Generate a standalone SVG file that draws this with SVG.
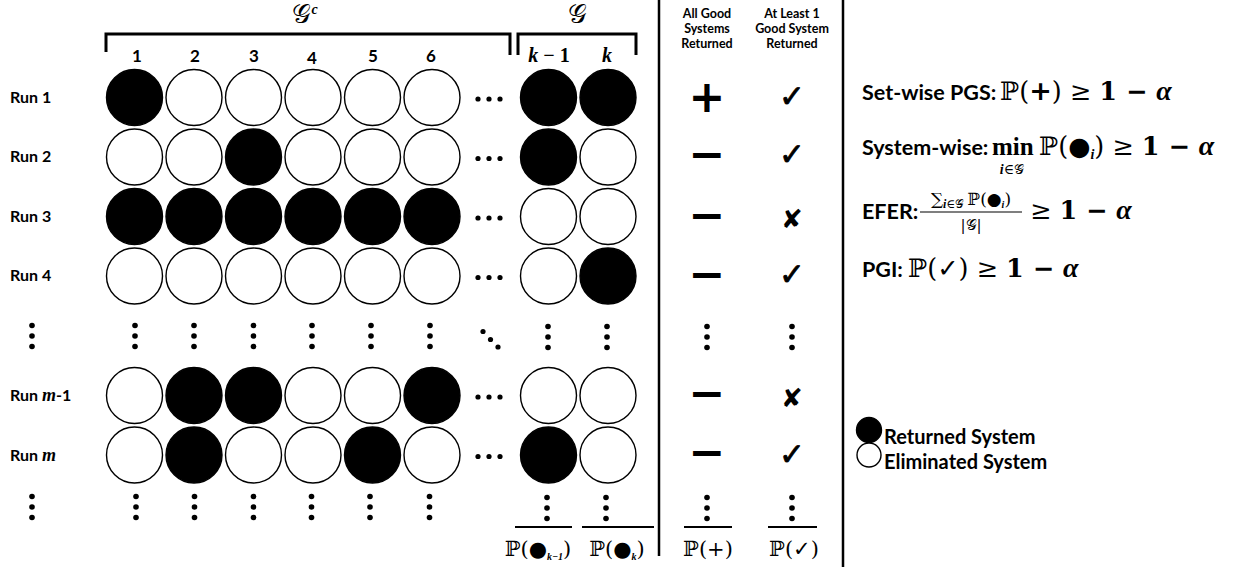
<svg xmlns="http://www.w3.org/2000/svg" width="1245" height="567" viewBox="0 0 1245 567">
<defs>
<style>
.bg{fill:#fff}
.c{stroke:#000;stroke-width:1.4}
.w{fill:#fff}
.b{fill:#000}
.lbl{font-family:Lato,"Open Sans",sans-serif;font-weight:bold;fill:#000}
.run{font-size:16px}
.hd{font-size:12.5px;text-anchor:middle}
.num{font-size:17px;text-anchor:middle}
.m{font-family:"DejaVu Serif","Liberation Serif",serif;fill:#000}
.mi{font-family:"Liberation Serif","DejaVu Serif",serif;font-style:italic;font-weight:bold;fill:#000}
.scr{font-family:"DejaVu Serif","Liberation Serif",serif;font-style:normal;font-weight:normal;fill:#000}
.sym{font-family:"DejaVu Sans",sans-serif;fill:#000;text-anchor:middle}
.pm{font-weight:bold;font-size:44px}
.ck{font-size:31px;stroke:#000;stroke-width:0.8}
.x{font-size:26px}
.dot{fill:#000}
.ln{stroke:#000;fill:none}
</style>
<g id="vd"><circle cx="0" cy="-10.5" r="2.8"/><circle cx="0" cy="0" r="2.8"/><circle cx="0" cy="10.5" r="2.8"/></g>
<g id="hd3"><circle cx="-11" cy="0" r="2.6"/><circle cx="0" cy="0" r="2.6"/><circle cx="11" cy="0" r="2.6"/></g>
</defs>
<rect class="bg" width="1245" height="567"/>

<g id="frame">
<line class="ln" x1="659" y1="0" x2="659" y2="556" stroke-width="2.5"/>
<line class="ln" x1="843" y1="0" x2="843" y2="567" stroke-width="2.5"/>
<path class="ln" d="M106,52 V34 H510 V55" stroke-width="3"/>
<path class="ln" d="M518,55 V34 H636 V55" stroke-width="3"/>
</g>

<g id="headers">
<text class="scr" x="305" y="23" font-size="26" text-anchor="middle">𝒢<tspan class="mi" font-weight="normal" font-size="14" dy="-9">c</tspan></text>
<text class="scr" x="577" y="23" font-size="26" text-anchor="middle">𝒢</text>
<text class="lbl num" x="137" y="62">1</text>
<text class="lbl num" x="195" y="62">2</text>
<text class="lbl num" x="254" y="62">3</text>
<text class="lbl num" x="312" y="64">4</text>
<text class="lbl num" x="373" y="62">5</text>
<text class="lbl num" x="431" y="62">6</text>
<text class="mi" x="549" y="62" font-size="20" text-anchor="middle">k<tspan font-style="normal"> − 1</tspan></text>
<text class="mi" x="607" y="62" font-size="20" text-anchor="middle">k</text>
<text class="lbl hd" x="707" y="18">All Good</text>
<text class="lbl hd" x="707" y="33">Systems</text>
<text class="lbl hd" x="707" y="48">Returned</text>
<text class="lbl hd" x="792" y="18">At Least 1</text>
<text class="lbl hd" x="792" y="33">Good System</text>
<text class="lbl hd" x="792" y="48">Returned</text>
</g>

<g id="runlabels">
<text class="lbl run" x="10" y="103">Run 1</text>
<text class="lbl run" x="10" y="162">Run 2</text>
<text class="lbl run" x="10" y="222">Run 3</text>
<text class="lbl run" x="10" y="281">Run 4</text>
<text class="lbl run" x="10" y="401">Run <tspan class="mi" font-size="18">m</tspan>-1</text>
<text class="lbl run" x="10" y="461">Run <tspan class="mi" font-size="18">m</tspan></text>
<use href="#vd" x="32" y="336"/>
<use href="#vd" x="32" y="507"/>
</g>

<g id="row1">
<circle class="c b" cx="134.5" cy="97.5" r="28"/>
<circle class="c w" cx="194" cy="97.5" r="28"/>
<circle class="c w" cx="253.5" cy="97.5" r="28"/>
<circle class="c w" cx="313" cy="97.5" r="28"/>
<circle class="c w" cx="372.5" cy="97.5" r="28"/>
<circle class="c w" cx="432" cy="97.5" r="28"/>
<use href="#hd3" x="489" y="99"/>
<circle class="c b" cx="548.5" cy="97.5" r="28"/>
<circle class="c b" cx="608" cy="97.5" r="28"/>
<text class="sym pm" x="707" y="111.5">+</text>
<text class="sym ck" x="792" y="107">✓</text>
</g>

<g id="row2">
<circle class="c w" cx="134.5" cy="157" r="28"/>
<circle class="c w" cx="194" cy="157" r="28"/>
<circle class="c b" cx="253.5" cy="157" r="28"/>
<circle class="c w" cx="313" cy="157" r="28"/>
<circle class="c w" cx="372.5" cy="157" r="28"/>
<circle class="c w" cx="432" cy="157" r="28"/>
<use href="#hd3" x="489" y="158.5"/>
<circle class="c b" cx="548.5" cy="157" r="28"/>
<circle class="c w" cx="608" cy="157" r="28"/>
<text class="sym pm" x="707" y="168.5">−</text>
<text class="sym ck" x="792" y="165">✓</text>
</g>

<g id="row3">
<circle class="c b" cx="134.5" cy="216.5" r="28"/>
<circle class="c b" cx="194" cy="216.5" r="28"/>
<circle class="c b" cx="253.5" cy="216.5" r="28"/>
<circle class="c b" cx="313" cy="216.5" r="28"/>
<circle class="c b" cx="372.5" cy="216.5" r="28"/>
<circle class="c b" cx="432" cy="216.5" r="28"/>
<use href="#hd3" x="489" y="218"/>
<circle class="c w" cx="548.5" cy="216.5" r="28"/>
<circle class="c w" cx="608" cy="216.5" r="28"/>
<text class="sym pm" x="707" y="229.5">−</text>
<text class="sym x" x="792" y="228">✘</text>
</g>

<g id="row4">
<circle class="c w" cx="134.5" cy="276" r="28"/>
<circle class="c w" cx="194" cy="276" r="28"/>
<circle class="c w" cx="253.5" cy="276" r="28"/>
<circle class="c w" cx="313" cy="276" r="28"/>
<circle class="c w" cx="372.5" cy="276" r="28"/>
<circle class="c w" cx="432" cy="276" r="28"/>
<use href="#hd3" x="489" y="277.5"/>
<circle class="c w" cx="548.5" cy="276" r="28"/>
<circle class="c b" cx="608" cy="276" r="28"/>
<text class="sym pm" x="707" y="288.5">−</text>
<text class="sym ck" x="792" y="285">✓</text>
</g>

<g id="rowdots1">
<use href="#vd" x="135" y="336"/>
<use href="#vd" x="194" y="336"/>
<use href="#vd" x="253.5" y="336"/>
<use href="#vd" x="312" y="336"/>
<use href="#vd" x="371" y="336"/>
<use href="#vd" x="430" y="336"/>
<circle class="dot" cx="483" cy="331.5" r="2.6"/>
<circle class="dot" cx="490.5" cy="339.5" r="2.6"/>
<circle class="dot" cx="498" cy="347" r="2.6"/>
<use href="#vd" x="548" y="337"/>
<use href="#vd" x="607" y="337"/>
<use href="#vd" x="707" y="337"/>
<use href="#vd" x="792" y="337"/>
</g>

<g id="rowm1">
<circle class="c w" cx="134.5" cy="395.5" r="28"/>
<circle class="c b" cx="194" cy="395.5" r="28"/>
<circle class="c b" cx="253.5" cy="395.5" r="28"/>
<circle class="c w" cx="313" cy="395.5" r="28"/>
<circle class="c w" cx="372.5" cy="395.5" r="28"/>
<circle class="c b" cx="432" cy="395.5" r="28"/>
<use href="#hd3" x="489" y="397"/>
<circle class="c w" cx="548.5" cy="395.5" r="28"/>
<circle class="c w" cx="608" cy="395.5" r="28"/>
<text class="sym pm" x="707" y="407.5">−</text>
<text class="sym x" x="792" y="407">✘</text>
</g>

<g id="rowm">
<circle class="c w" cx="134.5" cy="455" r="28"/>
<circle class="c b" cx="194" cy="455" r="28"/>
<circle class="c w" cx="253.5" cy="455" r="28"/>
<circle class="c w" cx="313" cy="455" r="28"/>
<circle class="c b" cx="372.5" cy="455" r="28"/>
<circle class="c w" cx="432" cy="455" r="28"/>
<use href="#hd3" x="489" y="456.5"/>
<circle class="c b" cx="548.5" cy="455" r="28"/>
<circle class="c w" cx="608" cy="455" r="28"/>
<text class="sym pm" x="707" y="467">−</text>
<text class="sym ck" x="792" y="465">✓</text>
</g>

<g id="rowdots2">
<use href="#vd" x="136" y="507"/>
<use href="#vd" x="194.5" y="507"/>
<use href="#vd" x="253.5" y="507"/>
<use href="#vd" x="311.5" y="507"/>
<use href="#vd" x="370" y="507"/>
<use href="#vd" x="429.5" y="507"/>
<use href="#vd" x="547" y="508"/>
<use href="#vd" x="606" y="508"/>
<use href="#vd" x="707" y="508"/>
<use href="#vd" x="792" y="508"/>
</g>

<g id="totals">
<line class="ln" x1="515" y1="527" x2="572" y2="527" stroke-width="2"/>
<line class="ln" x1="582" y1="527" x2="654" y2="527" stroke-width="2"/>
<line class="ln" x1="684" y1="527" x2="732" y2="527" stroke-width="2"/>
<line class="ln" x1="768" y1="527" x2="817" y2="527" stroke-width="2"/>
<text class="m" x="538" y="556" font-size="21" text-anchor="middle">ℙ(<tspan font-family="DejaVu Sans">●</tspan><tspan class="mi" font-size="10" dy="4">k</tspan><tspan class="mi" font-size="10" font-style="normal">−1</tspan><tspan dy="-4">)</tspan></text>
<text class="m" x="617" y="556" font-size="21" text-anchor="middle">ℙ(<tspan font-family="DejaVu Sans">●</tspan><tspan class="mi" font-size="10" dy="4">k</tspan><tspan dy="-4">)</tspan></text>
<text class="m" x="708" y="556" font-size="21" text-anchor="middle">ℙ(+)</text>
<text class="m" x="794" y="556" font-size="21" text-anchor="middle">ℙ(<tspan font-family="DejaVu Sans">✓</tspan>)</text>
</g>

<g id="formulas">
<text class="lbl" x="862" y="100" font-size="21.5">Set-wise PGS:</text>
<text x="1000" y="100" font-size="25.5"><tspan class="m">ℙ(</tspan><tspan font-family="DejaVu Sans" font-weight="bold" font-size="27">+</tspan><tspan class="m">) ≥ </tspan><tspan class="m" font-weight="bold">1 − </tspan><tspan class="mi" font-size="28">α</tspan></text>
<text class="lbl" x="862" y="155" font-size="21.5">System-wise:</text>
<text x="992" y="155" font-size="25" font-family="Liberation Serif,serif" font-weight="bold" fill="#000">min</text>
<text class="mi" x="1012" y="174" font-size="14" text-anchor="middle">i<tspan class="scr">∈𝒢</tspan></text>
<text x="1039" y="155" font-size="25.5"><tspan class="m">ℙ(</tspan><tspan font-family="DejaVu Sans">●</tspan><tspan class="mi" font-size="14" dy="4">i</tspan><tspan class="m" dy="-4">) ≥ </tspan><tspan class="m" font-weight="bold">1 − </tspan><tspan class="mi" font-size="28">α</tspan></text>
<text class="lbl" x="862" y="219" font-size="21.5">EFER:</text>
<text x="971" y="205" font-size="17" text-anchor="middle"><tspan class="m">∑</tspan><tspan class="mi" font-size="12" dy="3">i<tspan class="scr">∈𝒢</tspan> </tspan><tspan class="m" dy="-3">ℙ(</tspan><tspan font-family="DejaVu Sans">●</tspan><tspan class="mi" font-size="10" dy="3">i</tspan><tspan class="m" dy="-3">)</tspan></text>
<line class="ln" x1="920" y1="212" x2="1022" y2="212" stroke-width="1.2"/>
<text class="m" x="971" y="230" font-size="15" text-anchor="middle">|<tspan class="scr">𝒢</tspan>|</text>
<text x="1030" y="219" font-size="25.5"><tspan class="m">≥ </tspan><tspan class="m" font-weight="bold">1 − </tspan><tspan class="mi" font-size="28">α</tspan></text>
<text class="lbl" x="862" y="277" font-size="21.5">PGI:</text>
<text x="908" y="277" font-size="25.5"><tspan class="m">ℙ(</tspan><tspan font-family="DejaVu Sans">✓</tspan><tspan class="m">) ≥ </tspan><tspan class="m" font-weight="bold">1 − </tspan><tspan class="mi" font-size="28">α</tspan></text>
</g>

<g id="legend">
<circle class="c b" cx="869" cy="430" r="12.5"/>
<circle class="c w" cx="869" cy="455" r="12"/>
<text class="lbl" x="884" y="444" font-size="20">Returned System</text>
<text class="lbl" x="884" y="469" font-size="20">Eliminated System</text>
</g>
</svg>
